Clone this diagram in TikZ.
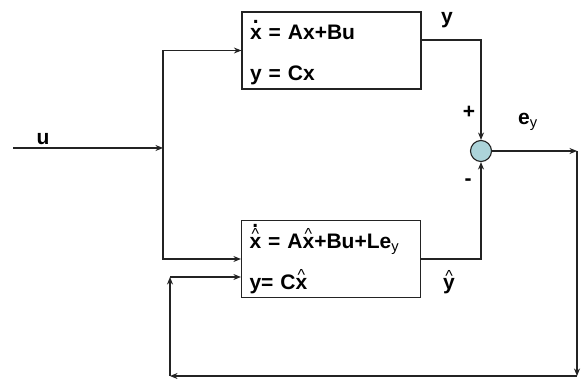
\documentclass[tikz,border=0pt]{standalone}
\usepackage{fontspec}
\setmainfont{Liberation Sans}
\usetikzlibrary{arrows.meta,positioning,calc}
\definecolor{sumfill}{RGB}{172,212,218}
\definecolor{wiregray}{RGB}{35,35,35}
% letters with marks on top
\newcommand{\hatmark}{\fontsize{16}{16}\selectfont\mdseries\textasciicircum}
\newcommand{\dotx}{\ooalign{x\cr\hidewidth\raisebox{0.78em}{.}\hidewidth\cr}}
\newcommand{\hatx}{\ooalign{x\cr\hidewidth\raisebox{0.4em}{\hatmark}\hidewidth\cr}}
\newcommand{\hdotx}{\ooalign{x\cr\hidewidth\raisebox{0.4em}{\hatmark}\hidewidth\cr\hidewidth\raisebox{0.97em}{.}\hidewidth\cr}}
\newcommand{\haty}{\ooalign{y\cr\hidewidth\raisebox{0.4em}{\hatmark}\hidewidth\cr}}
\newcommand{\suby}{\textsubscript{\mdseries y}}
\newcommand{\firstline}{\rule{0pt}{24pt}}

\begin{document}
\begin{tikzpicture}[
  x=1pt, y=-1pt,
  blockbox/.style={draw=wiregray, line width=1.2pt, minimum width=179pt,
                   minimum height=77pt, text width=163pt, align=left,
                   inner xsep=8pt, font=\fontsize{21}{41}\selectfont\bfseries},
  sumnode/.style={circle, draw=wiregray, line width=1.1pt, fill=sumfill,
                  minimum size=21pt, inner sep=0pt},
  lbl/.style={font=\fontsize{21}{24}\selectfont\bfseries, inner sep=0pt},
  arr/.style={-{Stealth[length=7.5pt,width=6pt]}, line width=1.1pt, draw=wiregray}
]
\useasboundingbox (0,0) rectangle (586,379);

\node[blockbox] (plant) at (331.5,50.5) {\firstline\dotx{} = Ax+Bu\\y = Cx};
\node[blockbox] (obs) at (331,259) {\firstline\hdotx{} = A\hatx{}+Bu+Le\suby\\y= C\hatx};
\node[sumnode] (sum) at (481,151) {};

\coordinate (uin) at (13,148);
\coordinate (split) at (163,148);
\coordinate (eyend) at (577,151);
\coordinate (brc) at (577,376);
\coordinate (blc) at (170,376);
\coordinate (fbtop) at (170,277);

% input u to both blocks
\draw[arr] (uin) -- (split);
\draw[arr] (split) |- (plant.west);
\draw[arr] (split) |- (obs.west);

% outputs into the comparator
\draw[arr] ($(plant.east)+(0,-10.5)$) -| (sum.north);
\draw[arr] (obs.east) -| (sum.south);

% error fed back to the observer
\draw[arr] (sum.east) -- (eyend);
\draw[arr] (eyend) -- (brc);
\draw[arr] (brc) -- (blc);
\draw[arr] (blc) -- (fbtop);
\draw[arr] (fbtop) -- ($(obs.west)+(0,18)$);

\node[lbl] (ulbl) at (43,139) {u};
\node[lbl] (ylbl) at (447,20) {y};
\node[lbl] (plus) at (469,112) {+};
\node[lbl] (minus) at (468,182) {-};
\node[lbl] (eylbl) at (528,122) {e\suby};
\node[lbl] (yhatlbl) at (449,284) {\haty};
\end{tikzpicture}
\end{document}
